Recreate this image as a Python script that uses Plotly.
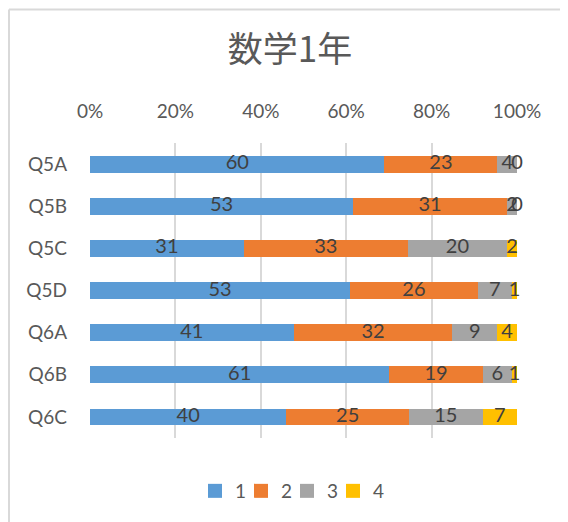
import plotly.graph_objects as go

categories = ["Q5A", "Q5B", "Q5C", "Q5D", "Q6A", "Q6B", "Q6C"]
series_names = ["1", "2", "3", "4"]
s1 = [60, 53, 31, 53, 41, 61, 40]
s2 = [23, 31, 33, 26, 32, 19, 25]
s3 = [4, 2, 20, 7, 9, 6, 15]
s4 = [0, 0, 2, 1, 4, 1, 7]
colors = ["#5B9BD5", "#ED7D31", "#A5A5A5", "#FFC000"]

series = [s1, s2, s3, s4]
totals = [sum(v) for v in zip(*series)]
fracs = [[v / t for v, t in zip(s, totals)] for s in series]

fig = go.Figure()
for name, fr, col in zip(series_names, fracs, colors):
    fig.add_trace(go.Bar(y=categories, x=fr, name=name, orientation="h",
                         marker=dict(color=col, line=dict(width=0)),
                         hoverinfo="skip", showlegend=False))
# legend entries with square swatches
for name, col in zip(series_names, colors):
    fig.add_trace(go.Scatter(x=[None], y=[None], mode="markers", name=name,
                             marker=dict(symbol="square", size=14, color=col),
                             hoverinfo="skip"))
# invisible spacer entry so the last legend label is not clipped
fig.add_trace(go.Scatter(x=[None], y=[None], mode="markers", name=" ",
                         marker=dict(size=1, color="rgba(0,0,0,0)"), hoverinfo="skip"))

# data labels at segment centers
lx, ly, lt = [], [], []
cum = [0.0] * len(categories)
for s, fr in zip(series, fracs):
    for i, (v, f) in enumerate(zip(s, fr)):
        lx.append(cum[i] + f / 2)
        ly.append(categories[i])
        lt.append(str(v))
        cum[i] += f
fig.add_trace(go.Scatter(x=lx, y=ly, text=lt, mode="text", showlegend=False,
                         textfont=dict(family="Lato, sans-serif", size=20, color="#404040"),
                         textposition="middle center", hoverinfo="skip", cliponaxis=False))

# page has an 8px body margin, so figure coords = screen coords - 8
OFF = 8
L, R, T, B = 90 - OFF, 51 + OFF, 143 - OFF, 84 + OFF
W, H = 568, 522
pw, ph = W - L - R, H - T - B

fig.update_layout(
    width=W, height=H,
    margin=dict(l=L, r=R, t=T, b=B, autoexpand=False),
    barmode="stack", bargap=0.6,
    plot_bgcolor="white", paper_bgcolor="white",
    title=dict(text="数学1年", x=(290 - OFF) / W, xanchor="center",
               y=1 - (50 - OFF) / H, yanchor="middle", yref="container",
               font=dict(family="Noto Sans CJK JP", size=35, color="#595959")),
    font=dict(family="Lato, sans-serif", color="#595959"),
    xaxis=dict(range=[0, 1], side="top", tickformat=".0%", dtick=0.2, tick0=0,
               showgrid=True, gridcolor="#D9D9D9", gridwidth=1.5, zeroline=False,
               showline=False, tickfont=dict(size=19, color="#595959"),
               ticklabelstandoff=20, fixedrange=True, automargin=False),
    yaxis=dict(autorange="reversed", showgrid=False, zeroline=False, showline=False,
               tickfont=dict(size=19, color="#595959"), ticklabelstandoff=22,
               fixedrange=True, automargin=False),
    legend=dict(orientation="h", x=(195 - OFF - L) / pw, xanchor="left",
                y=(H - B - (491 - OFF)) / ph, yanchor="middle", traceorder="normal",
                font=dict(size=19, color="#595959"), itemwidth=30,
                entrywidth=1, entrywidthmode="pixels"),
    showlegend=True,
    shapes=[
        dict(type="line", xref="paper", yref="paper",
             x0=(1 - L) / pw, x1=(W + 20 - L) / pw,
             y0=(H - B - (9.5 - OFF)) / ph, y1=(H - B - (9.5 - OFF)) / ph,
             line=dict(color="#D9D9D9", width=2)),
        dict(type="line", xref="paper", yref="paper",
             x0=(1 - L) / pw, x1=(1 - L) / pw,
             y0=(H - B - (9.5 - OFF)) / ph, y1=(H - B - H - 20) / ph,
             line=dict(color="#D9D9D9", width=2)),
    ],
)

fig.write_html("out.html")
